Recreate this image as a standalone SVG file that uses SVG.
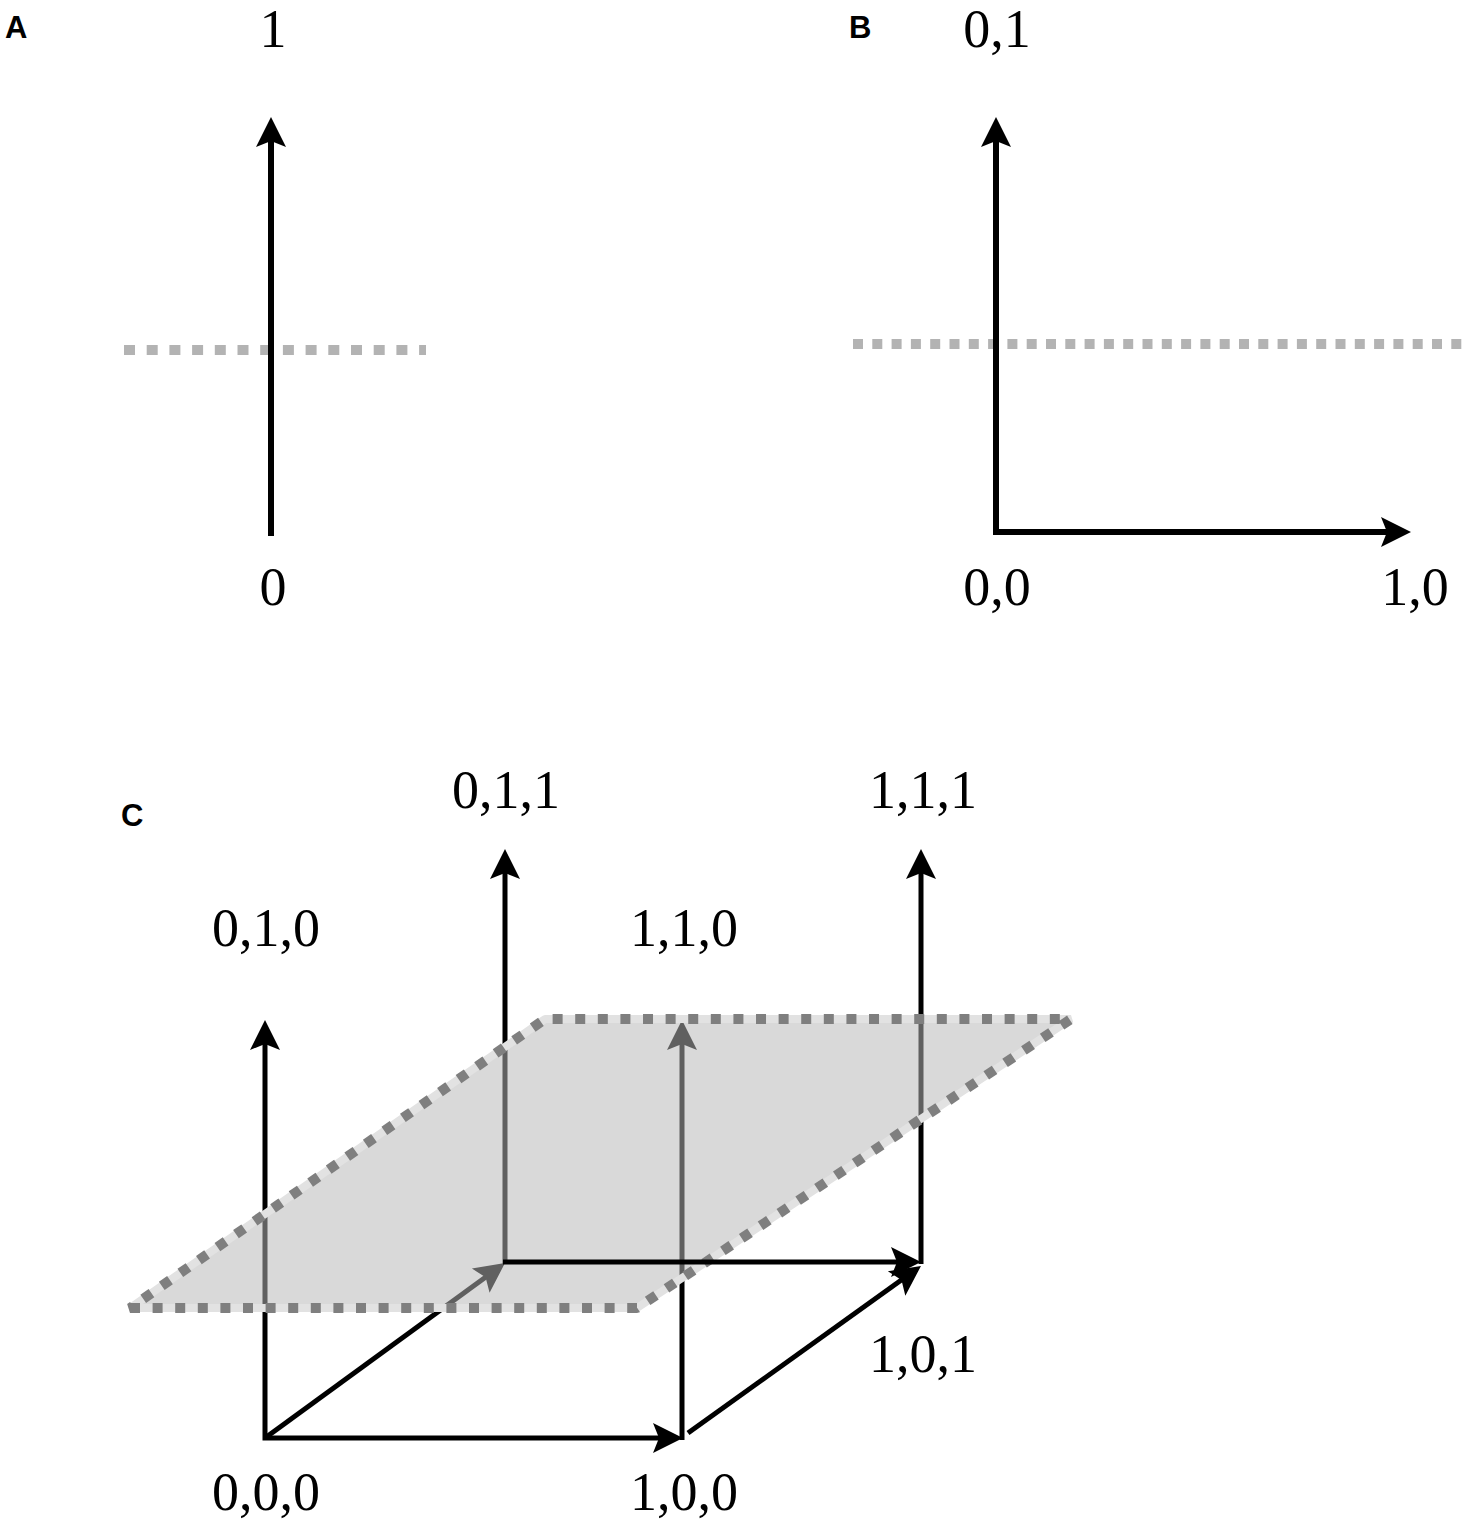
<svg xmlns="http://www.w3.org/2000/svg" width="1467" height="1523" viewBox="0 0 1467 1523">
<style>
.lbl{font-family:"Liberation Serif","Times New Roman",serif;font-size:54px;fill:#000;text-anchor:middle}
.pan{font-family:"Liberation Sans",Arial,sans-serif;font-size:31px;font-weight:bold;fill:#000}
.ax{fill:none;stroke:#000;stroke-width:6;stroke-linejoin:miter}
.axc{fill:none;stroke:#000;stroke-width:5;stroke-linejoin:miter}
.thr{fill:none;stroke:#b3b3b3;stroke-width:10}
</style>
<defs>
<marker id="ah" markerUnits="userSpaceOnUse" markerWidth="40" markerHeight="40" refX="0" refY="0" orient="auto-start-reverse" overflow="visible">
<path d="M22,0 L-8,-15 L-2,0 L-8,15 Z" fill="#000"/>
</marker>
</defs>
<rect width="1467" height="1523" fill="#fff"/>

<g id="panelA">
<text class="pan" x="5" y="38">A</text>
<line id="threshA" class="thr" x1="124" y1="350" x2="426" y2="350" stroke-dasharray="11 11.7"/>
<line id="axisA" class="ax" x1="271" y1="536" x2="271" y2="139" marker-end="url(#ah)"/>
<text class="lbl" x="273" y="47">1</text>
<text class="lbl" x="273" y="605">0</text>
</g>

<g id="panelB">
<text class="pan" x="849" y="38">B</text>
<line id="threshB" class="thr" x1="853" y1="344" x2="1462" y2="344" stroke-dasharray="10 9.3"/>
<path id="axesB" class="ax" d="M996,139 V532 H1389" marker-start="url(#ah)" marker-end="url(#ah)"/>
<text class="lbl" x="997" y="47">0,1</text>
<text class="lbl" x="997" y="605">0,0</text>
<text class="lbl" x="1415" y="605">1,0</text>
</g>

<g id="panelC">
<text class="pan" x="121" y="826">C</text>
<g id="connectors">
<path class="axc" d="M265,1042 V1438 H661" marker-start="url(#ah)" marker-end="url(#ah)"/>
<line class="axc" x1="265" y1="1438" x2="487.2" y2="1276" marker-end="url(#ah)"/>
<line class="axc" x1="505" y1="1264" x2="505" y2="871" marker-end="url(#ah)"/>
<line class="axc" x1="682" y1="1440" x2="682" y2="1042" marker-end="url(#ah)"/>
<line class="axc" x1="921" y1="1264" x2="921" y2="871" marker-end="url(#ah)"/>
<line class="axc" x1="688" y1="1433" x2="903.1" y2="1278.8" marker-end="url(#ah)"/>
</g>
<g id="plane">
<polygon points="130,1308 637,1308 1071,1019 545,1019" fill="#b7b7b7" fill-opacity="0.525"/>
<polygon points="130,1308 637,1308 1071,1019 545,1019" fill="none" stroke="#e2e2e2" stroke-width="8" stroke-linejoin="bevel"/>
<polygon points="130,1308 637,1308 1071,1019 545,1019" fill="none" stroke="#7f7f7f" stroke-width="10" stroke-dasharray="10 12.6" stroke-linejoin="bevel"/>
</g>
<g id="connectors-top">
<line class="axc" x1="503" y1="1262" x2="899" y2="1262" marker-end="url(#ah)"/>
</g>
<text class="lbl" x="506" y="808">0,1,1</text>
<text class="lbl" x="923" y="808">1,1,1</text>
<text class="lbl" x="266" y="946">0,1,0</text>
<text class="lbl" x="684" y="946">1,1,0</text>
<text class="lbl" x="923" y="1372">1,0,1</text>
<text class="lbl" x="266" y="1510">0,0,0</text>
<text class="lbl" x="684" y="1510">1,0,0</text>
</g>
</svg>
